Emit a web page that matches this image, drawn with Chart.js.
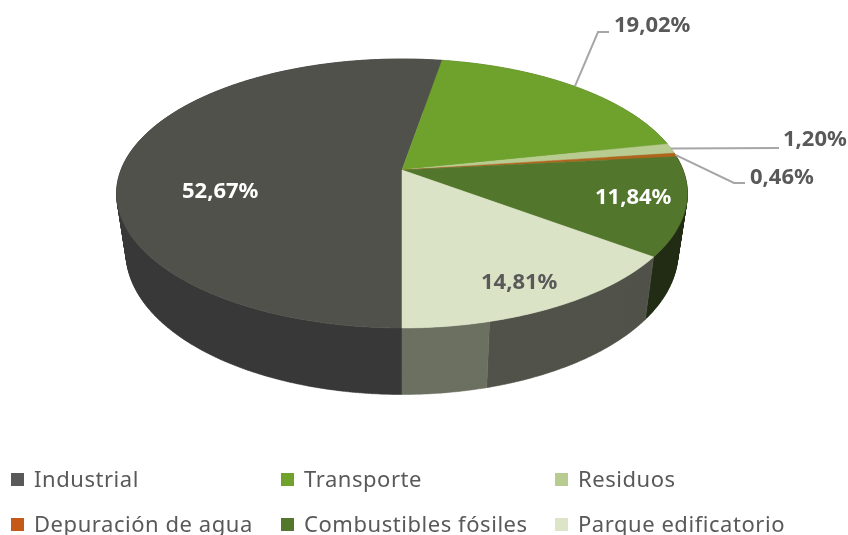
<!DOCTYPE html>
<html lang="es">
<head>
<meta charset="utf-8">
<title>Emisiones por sector</title>
<script src="https://cdn.jsdelivr.net/npm/chart.js@4"></script>
<style>
    html, body { margin: 0; padding: 0; background: #fff; }
    #wrap { position: relative; width: 848px; height: 535px; overflow: hidden; }
    #legend span.item { position: absolute; font: 400 22px "Noto Sans", sans-serif; color: #595959; letter-spacing: 0.55px; white-space: nowrap; line-height: 30px; }
    #legend span.box { position: absolute; width: 13px; height: 13px; }
</style>
</head>
<body>
<div id="wrap">
    <canvas id="pieChart" width="848" height="535"></canvas>
    <div id="legend"></div>
</div>
<script>
const categories = ["Industrial", "Transporte", "Residuos", "Depuración de agua", "Combustibles fósiles", "Parque edificatorio"];
const shares = [52.67, 19.02, 1.20, 0.46, 11.84, 14.81];
const sliceColors = ["#50514a", "#6fa22d", "#b8cc92", "#b0651d", "#52762c", "#dbe3c6"];
const legendColors = ["#595959", "#70a22c", "#b8cc92", "#c55a18", "#54772d", "#dde5c9"];

// side wall of the pie: same start, but the last slice's wall is split in two tones
const wallShares = [52.67, 19.02, 1.20, 0.46, 11.84, 10.64, 4.17];
const wallColors = ["#383838", "#55752c", "#8a9a6c", "#8a4a12", "#222c14", "#51524a", "#6b7060"];

// label placement, text left edge + leader elbow where there is one
const labelLayout = [
    { x: 182, y: 192, color: "#ffffff" },
    { x: 614, y: 26, color: "#595959", line: [[598, 32], [609, 32]] },
    { x: 783, y: 140, color: "#595959", line: [[779, 148]] },
    { x: 750, y: 178, color: "#595959", line: [[734, 183], [745, 183]] },
    { x: 595, y: 198, color: "#ffffff" },
    { x: 481, y: 283, color: "#595959" },
];

// perspective discs, top face and bottom face of the cylinder
const topDisc = { cx: 402, cy: 170, rx: 281, ry: 130.4, k: 0.1747 };
const bottomDisc = { cx: 402, cy: 227.6, rx: 271.7, ry: 137.7, k: 0.175 };

function project(disc, angle) {
    const u = Math.cos(angle);
    const v = Math.sin(angle);
    const w = 1 - disc.k * v;
    return [disc.cx + disc.rx * u / w, disc.cy + disc.ry * v / w];
}

function rimPoints(disc, start, end) {
    const pts = [];
    const steps = Math.max(2, Math.ceil((end - start) / 0.01));
    for (let i = 0; i <= steps; i++) {
        pts.push(project(disc, start + (end - start) * i / steps));
    }
    return pts;
}

function tracePoints(ctx, pts) {
    pts.forEach(function (p, i) {
        if (i === 0) {
            ctx.moveTo(p[0], p[1]);
        } else {
            ctx.lineTo(p[0], p[1]);
        }
    });
}

const pie3d = {
    id: "pie3d",
    beforeDatasetsDraw(chart) {
        const ctx = chart.ctx;
        const slices = chart.getDatasetMeta(0).data;
        const walls = chart.getDatasetMeta(1).data;

        // walls from the back to the front
        const order = walls.map(function (arc, i) { return i; });
        order.sort(function (a, b) {
            return Math.sin((walls[a].startAngle + walls[a].endAngle) / 2) - Math.sin((walls[b].startAngle + walls[b].endAngle) / 2);
        });
        order.forEach(function (i) {
            const arc = walls[i];
            const top = rimPoints(topDisc, arc.startAngle, arc.endAngle);
            const bottom = rimPoints(bottomDisc, arc.startAngle, arc.endAngle);
            ctx.fillStyle = wallColors[i];
            ctx.strokeStyle = wallColors[i];
            ctx.lineWidth = 0.5;
            // all quads in one path: no seams, and the side silhouette gets filled too
            ctx.beginPath();
            for (let s = 0; s < top.length - 1; s++) {
                tracePoints(ctx, [top[s], top[s + 1], bottom[s + 1], bottom[s]]);
                ctx.closePath();
            }
            ctx.fill();
            ctx.stroke();
        });

        slices.forEach(function (arc, i) {
            ctx.beginPath();
            tracePoints(ctx, [[topDisc.cx, topDisc.cy]].concat(rimPoints(topDisc, arc.startAngle, arc.endAngle)));
            ctx.closePath();
            ctx.fillStyle = sliceColors[i];
            ctx.strokeStyle = sliceColors[i];
            ctx.lineWidth = 0.5;
            ctx.fill();
            ctx.stroke();
        });

        // leaders and percentage labels
        ctx.font = '700 22px "Noto Sans", sans-serif';
        ctx.textBaseline = "middle";
        ctx.textAlign = "left";
        slices.forEach(function (arc, i) {
            const layout = labelLayout[i];
            if (layout.line) {
                const from = project(topDisc, (arc.startAngle + arc.endAngle) / 2);
                ctx.beginPath();
                tracePoints(ctx, [from].concat(layout.line));
                ctx.strokeStyle = "#a6a6a6";
                ctx.lineWidth = 2;
                ctx.stroke();
            }
            ctx.fillStyle = layout.color;
            ctx.fillText(shares[i].toFixed(2).replace(".", ",") + "%", layout.x, layout.y);
        });
        return false;
    },
};

document.addEventListener("DOMContentLoaded", function () {
    new Chart(document.getElementById("pieChart"), {
        type: "pie",
        data: {
            labels: categories,
            datasets: [
                { data: shares, backgroundColor: sliceColors },
                { data: wallShares, backgroundColor: wallColors },
            ],
        },
        options: {
            responsive: false,
            animation: false,
            rotation: 180,
            events: [],
            plugins: {
                legend: { display: false },
                tooltip: { enabled: false },
            },
        },
        plugins: [pie3d],
    });

    const legendColumns = [11, 281, 555];
    const legendRows = [473, 518];
    const legend = document.getElementById("legend");
    categories.forEach(function (name, i) {
        const left = legendColumns[i % 3];
        const top = legendRows[Math.floor(i / 3)];
        const box = document.createElement("span");
        box.className = "box";
        box.style.left = left + "px";
        box.style.top = top + "px";
        box.style.background = legendColors[i];
        const item = document.createElement("span");
        item.className = "item";
        item.textContent = name;
        item.style.left = (left + 23) + "px";
        item.style.top = (top - 10) + "px";
        legend.appendChild(box);
        legend.appendChild(item);
    });
});
</script>
</body>
</html>
